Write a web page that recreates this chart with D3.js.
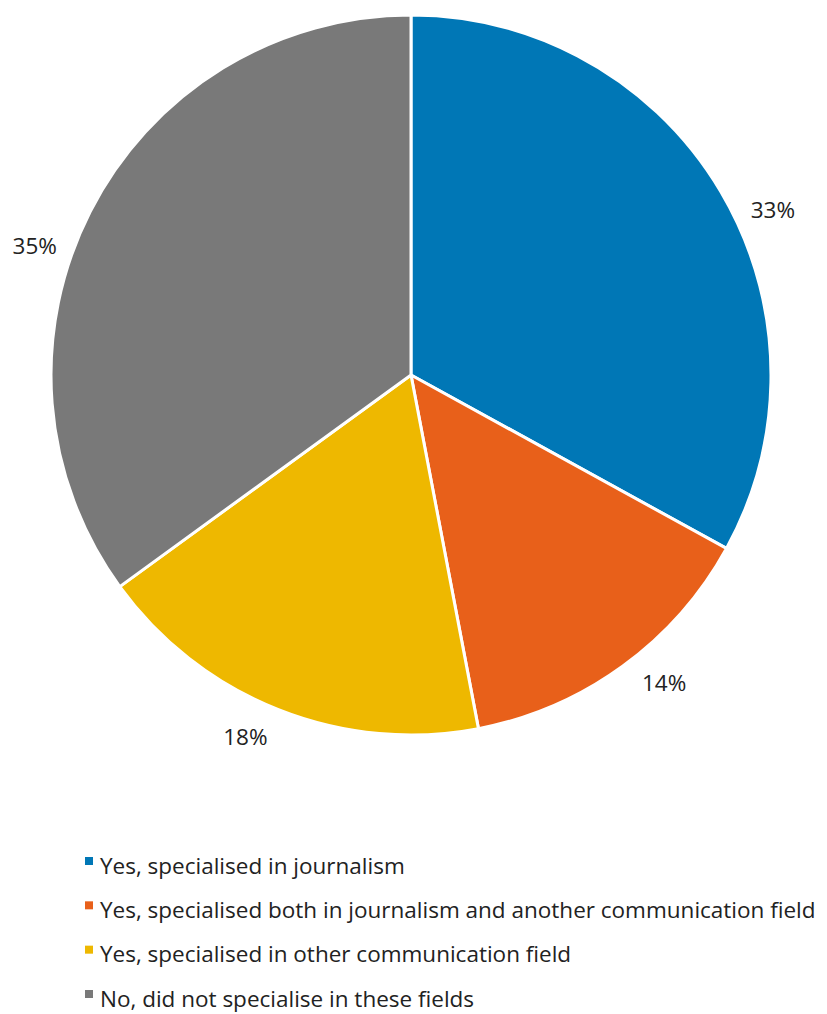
<!DOCTYPE html>
<html>
<head>
<meta charset="utf-8">
<script src="https://cdn.jsdelivr.net/npm/d3@7"></script>
<style>
  html, body { margin: 0; padding: 0; background: #ffffff; }
  svg { display: block; }
  text { font-family: "Open Sans", "Noto Sans", sans-serif; fill: #222222; }
</style>
</head>
<body>
<svg id="chart" width="827" height="1014"></svg>
<script>
// Survey answers: did the respondent specialise in journalism / communication?
const categories = [
  "Yes, specialised in journalism",
  "Yes, specialised both in journalism and another communication field",
  "Yes, specialised in other communication field",
  "No, did not specialise in these fields"
];
const shares = [33, 14, 18, 35];
const valueLabels = ["33%", "14%", "18%", "35%"];
const colors = ["#0077B6", "#E8601A", "#EEB800", "#797979"];

// Best-fit nudges (degrees) for the outside value labels
const labelAngleShift = [6, -3.5, 3, -8];

const svg = d3.select("#chart");
const cx = 411, cy = 375, radius = 360, labelRadius = 398;

const pie = d3.pie().sort(null).value(d => d)(shares);
const arc = d3.arc().innerRadius(0).outerRadius(radius);

const g = svg.append("g").attr("transform", `translate(${cx},${cy})`);

g.selectAll("path.slice")
  .data(pie)
  .join("path")
  .attr("class", "slice")
  .attr("d", arc)
  .attr("fill", (d, i) => colors[i])
  .attr("stroke", "#ffffff")
  .attr("stroke-width", 3)
  .attr("stroke-linejoin", "round");

g.selectAll("text.value")
  .data(pie)
  .join("text")
  .attr("class", "value")
  .attr("text-anchor", "middle")
  .attr("dominant-baseline", "central")
  .attr("font-size", 22.5)
  .attr("x", (d, i) => {
    const a = (d.startAngle + d.endAngle) / 2 + labelAngleShift[i] * Math.PI / 180;
    return labelRadius * Math.sin(a);
  })
  .attr("y", (d, i) => {
    const a = (d.startAngle + d.endAngle) / 2 + labelAngleShift[i] * Math.PI / 180;
    return -labelRadius * Math.cos(a);
  })
  .text((d, i) => valueLabels[i]);

// Legend
const legendY = d3.scalePoint().domain(categories).range([865, 998]);
const legend = svg.append("g");
const rows = legend.selectAll("g.row")
  .data(categories)
  .join("g")
  .attr("class", "row")
  .attr("transform", d => `translate(0,${legendY(d)})`);

rows.append("rect")
  .attr("x", 85)
  .attr("y", -8)
  .attr("width", 8)
  .attr("height", 8)
  .attr("fill", (d, i) => colors[i]);

rows.append("text")
  .attr("x", 100)
  .attr("y", 0)
  .attr("dominant-baseline", "central")
  .attr("font-size", 22.5)
  .text(d => d);
</script>
</body>
</html>
